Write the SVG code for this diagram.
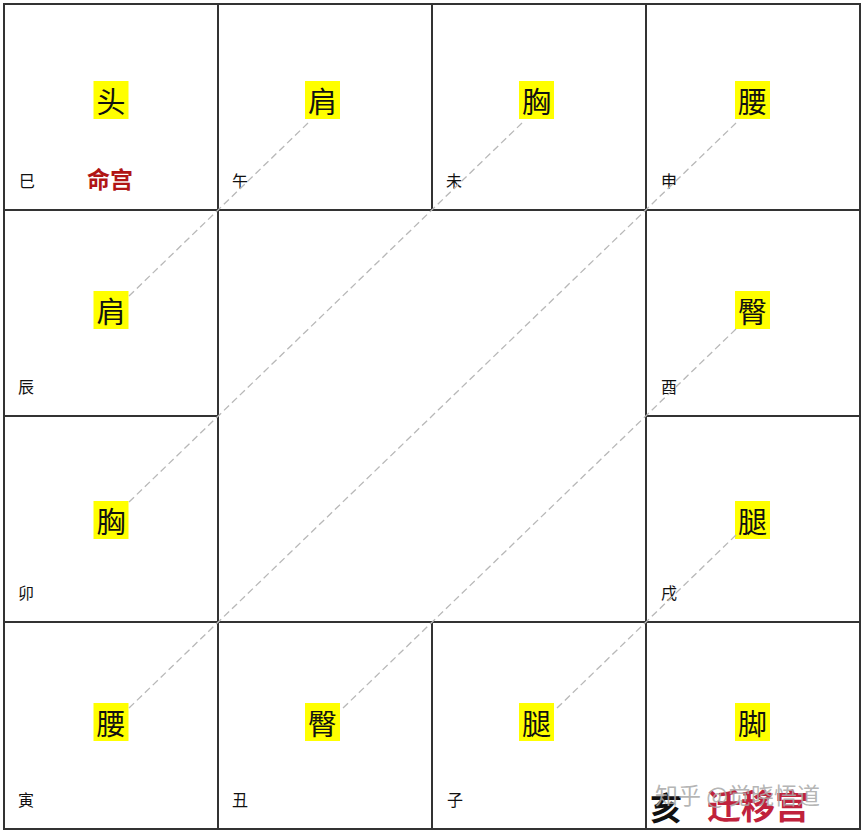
<svg xmlns="http://www.w3.org/2000/svg" width="865" height="833" viewBox="0 0 865 833">
<style>
.cell{fill:#fff;stroke:#333;stroke-width:2}
.hl{fill:#ffff00}
.main{font-family:"Noto Sans CJK SC","Noto Sans CJK JP",sans-serif;font-size:29px;fill:#111;text-anchor:middle;dominant-baseline:central}
.br{font-family:"Noto Sans CJK SC","Noto Sans CJK JP",sans-serif;font-size:16px;fill:#111}
.red{font-family:"Noto Sans CJK SC","Noto Sans CJK JP",sans-serif;font-weight:bold;fill:#b01515}
.con{stroke:#b8b8b8;stroke-width:1.3;stroke-dasharray:7 4;fill:none}
.wm{font-family:"Noto Sans CJK SC","Noto Sans CJK JP",sans-serif;font-size:23px;fill:#a8a8a8;fill-opacity:0.85}
</style>
<rect width="865" height="833" fill="#fff"/>
<g id="center"><rect class="cell" x="218" y="210" width="428" height="412"/></g>
<g id="si"><rect class="cell" x="4" y="4" width="214" height="206"/><rect class="hl" x="93.5" y="81" width="35" height="38"/><text class="main" x="111" y="100">头</text><text class="br" x="19" y="187">巳</text><text class="red" x="87" y="188" font-size="23">命宫</text></g>
<g id="wu"><rect class="cell" x="218" y="4" width="214" height="206"/><rect class="hl" x="305" y="81" width="35" height="38"/><text class="main" x="322.5" y="100">肩</text><text class="br" x="232" y="187">午</text></g>
<g id="wei"><rect class="cell" x="432" y="4" width="214" height="206"/><rect class="hl" x="519" y="81" width="35" height="38"/><text class="main" x="536.5" y="100">胸</text><text class="br" x="446" y="187">未</text></g>
<g id="shen"><rect class="cell" x="646" y="4" width="214" height="206"/><rect class="hl" x="735" y="81" width="35" height="38"/><text class="main" x="752.5" y="100">腰</text><text class="br" x="661" y="187">申</text></g>
<g id="chen"><rect class="cell" x="4" y="210" width="214" height="206"/><rect class="hl" x="93.5" y="291" width="35" height="38"/><text class="main" x="111" y="310">肩</text><text class="br" x="18" y="393">辰</text></g>
<g id="you"><rect class="cell" x="646" y="210" width="214" height="206"/><rect class="hl" x="735" y="291" width="35" height="38"/><text class="main" x="752.5" y="310">臀</text><text class="br" x="661" y="393">酉</text></g>
<g id="mao"><rect class="cell" x="4" y="416" width="214" height="206"/><rect class="hl" x="93.5" y="501" width="35" height="38"/><text class="main" x="111" y="520">胸</text><text class="br" x="18" y="599">卯</text></g>
<g id="xu"><rect class="cell" x="646" y="416" width="214" height="206"/><rect class="hl" x="735" y="501" width="35" height="38"/><text class="main" x="752.5" y="520">腿</text><text class="br" x="661" y="599">戌</text></g>
<g id="yin"><rect class="cell" x="4" y="622" width="214" height="207"/><rect class="hl" x="93.5" y="703" width="35" height="38"/><text class="main" x="111" y="722">腰</text><text class="br" x="18" y="806">寅</text></g>
<g id="chou"><rect class="cell" x="218" y="622" width="214" height="207"/><rect class="hl" x="305" y="703" width="35" height="38"/><text class="main" x="322.5" y="722">臀</text><text class="br" x="232" y="806">丑</text></g>
<g id="zi"><rect class="cell" x="432" y="622" width="214" height="207"/><rect class="hl" x="519" y="703" width="35" height="38"/><text class="main" x="536.5" y="722">腿</text><text class="br" x="447" y="806">子</text></g>
<g id="hai"><rect class="cell" x="646" y="622" width="214" height="207"/><rect class="hl" x="735" y="703" width="35" height="38"/><text class="main" x="752.5" y="722">脚</text><text x="650" y="820" font-family="Noto Sans CJK SC,sans-serif" font-weight="bold" font-size="32" fill="#111">亥</text><text class="red" x="707" y="819" font-size="34" fill="#c0223c" style="fill:#c0223c">迁移宫</text></g>
<g id="connectors">
<line class="con" x1="308" y1="123" x2="128" y2="297"/>
<line class="con" x1="522" y1="123" x2="128" y2="503"/>
<line class="con" x1="736" y1="123" x2="128" y2="709"/>
<line class="con" x1="736" y1="329" x2="342" y2="709"/>
<line class="con" x1="736" y1="535" x2="556" y2="709"/>
</g>
<g id="watermark"><text class="wm" x="655" y="804">知乎 @觉晓悟道</text></g>
</svg>
